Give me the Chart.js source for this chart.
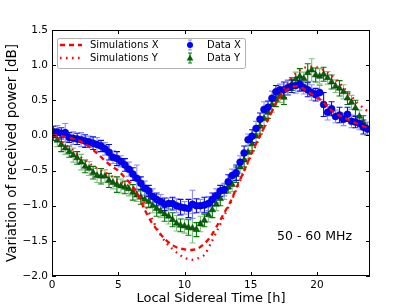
<!DOCTYPE html>
<html>
<head>
<meta charset="utf-8">
<script src="https://cdn.jsdelivr.net/npm/chart.js@4"></script>
<style>
  html, body { margin: 0; padding: 0; background: #fff; }
  canvas { display: block; }
</style>
</head>
<body>
<canvas id="chart" width="411" height="308"></canvas>
<script>
const times = [0.1, 0.4, 0.7, 1.0, 1.3, 1.6, 1.9, 2.2, 2.5, 2.8,
    3.1, 3.4, 3.7, 4.0, 4.3, 4.6, 4.9, 5.2, 5.5, 5.8,
    6.1, 6.4, 6.7, 7.0, 7.3, 7.6, 7.9, 8.2, 8.5, 8.8,
    9.1, 9.4, 9.7, 10.0, 10.3, 10.6, 10.9, 11.2, 11.5, 11.8,
    12.1, 12.4, 12.7, 13.0, 13.3, 13.6, 13.9, 14.2, 14.5, 14.8,
    15.1, 15.4, 15.7, 16.0, 16.3, 16.6, 16.9, 17.2, 17.5, 17.8,
    18.1, 18.4, 18.7, 19.0, 19.3, 19.6, 19.9, 20.2, 20.5, 20.8,
    21.1, 21.4, 21.7, 22.0, 22.3, 22.6, 22.9, 23.2, 23.5, 23.8];

const dataX = [0.05, 0.05, 0.03, 0.04, -0.03, -0.04, -0.05, -0.06, -0.08, -0.09,
    -0.11, -0.13, -0.15, -0.19, -0.24, -0.31, -0.33, -0.37, -0.42, -0.48,
    -0.55, -0.61, -0.68, -0.75, -0.79, -0.87, -0.91, -0.94, -0.98, -0.97,
    -0.97, -1.0, -1.02, -1.03, -1.04, -0.98, -1.0, -1.0, -0.99, -0.97,
    -0.91, -0.86, -0.79, -0.77, -0.66, -0.57, -0.53, -0.38, -0.25, -0.06,
    -0.01, 0.1, 0.23, 0.37, 0.40, 0.53, 0.62, 0.65, 0.65, 0.68,
    0.70, 0.71, 0.73, 0.68, 0.65, 0.61, 0.58, 0.61, 0.44, 0.33,
    0.38, 0.27, 0.29, 0.23, 0.3, 0.2, 0.19, 0.17, 0.12, 0.09];

const errX = [0.08, 0.09, 0.08, 0.13, 0.07, 0.09, 0.08, 0.1, 0.09, 0.08,
    0.09, 0.1, 0.08, 0.09, 0.11, 0.09, 0.1, 0.08, 0.09, 0.1,
    0.09, 0.19, 0.09, 0.1, 0.08, 0.11, 0.09, 0.1, 0.09, 0.08,
    0.09, 0.1, 0.11, 0.09, 0.13, 0.2, 0.1, 0.09, 0.11, 0.1,
    0.09, 0.1, 0.08, 0.09, 0.1, 0.09, 0.11, 0.09, 0.1, 0.08,
    0.09, 0.1, 0.09, 0.11, 0.09, 0.1, 0.09, 0.08, 0.11, 0.1,
    0.09, 0.11, 0.1, 0.09, 0.1, 0.11, 0.09, 0.1, 0.17, 0.11,
    0.1, 0.09, 0.11, 0.09, 0.1, 0.09, 0.08, 0.09, 0.1, 0.09];

const dataY = [0.01, -0.07, -0.13, -0.18, -0.23, -0.28, -0.32, -0.38, -0.44, -0.47,
    -0.53, -0.57, -0.58, -0.58, -0.64, -0.67, -0.70, -0.72, -0.74, -0.76,
    -0.81, -0.85, -0.88, -0.91, -0.94, -1.0, -1.04, -1.08, -1.12, -1.15,
    -1.2, -1.25, -1.28, -1.29, -1.31, -1.32, -1.34, -1.26, -1.21, -1.13,
    -1.06, -0.98, -0.9, -0.8, -0.73, -0.7, -0.56, -0.45, -0.35, -0.24,
    -0.12, -0.01, 0.13, 0.24, 0.33, 0.44, 0.51, 0.56, 0.54, 0.68,
    0.73, 0.8, 0.84, 0.81, 0.89, 0.93, 0.86, 0.84, 0.87, 0.82,
    0.76, 0.70, 0.67, 0.62, 0.53, 0.47, 0.39, 0.27, 0.18, 0.10];

const errY = [0.08, 0.09, 0.1, 0.09, 0.08, 0.1, 0.09, 0.11, 0.09, 0.1,
    0.09, 0.1, 0.11, 0.09, 0.1, 0.09, 0.11, 0.1, 0.09, 0.1,
    0.11, 0.09, 0.1, 0.11, 0.09, 0.1, 0.11, 0.09, 0.1, 0.11,
    0.1, 0.11, 0.09, 0.1, 0.11, 0.21, 0.1, 0.11, 0.09, 0.1,
    0.11, 0.09, 0.1, 0.11, 0.09, 0.1, 0.11, 0.09, 0.1, 0.09,
    0.1, 0.09, 0.11, 0.1, 0.09, 0.11, 0.1, 0.09, 0.1, 0.11,
    0.09, 0.1, 0.11, 0.09, 0.13, 0.16, 0.1, 0.11, 0.1, 0.09,
    0.1, 0.09, 0.11, 0.1, 0.09, 0.1, 0.11, 0.09, 0.1, 0.09];

const simTimes = [0, 0.5, 1, 1.5, 2, 2.5, 3, 3.5, 4, 4.5,
    5, 5.5, 6, 6.5, 7, 7.5, 8, 8.5, 9, 9.5,
    10, 10.5, 11, 11.5, 12, 12.5, 13, 13.5, 14, 14.5,
    15, 15.5, 16, 16.5, 17, 17.5, 18, 18.5, 19, 19.5,
    20, 20.5, 21, 21.5, 22, 22.5, 23, 23.5, 24];

const simX = [0.0, 0.0, -0.02, -0.04, -0.07, -0.12, -0.19, -0.27, -0.36, -0.44,
    -0.5, -0.6, -0.7, -0.85, -1.06, -1.23, -1.36, -1.47, -1.55, -1.6,
    -1.62, -1.63, -1.61, -1.54, -1.43, -1.27, -1.1, -0.93, -0.71, -0.5,
    -0.28, -0.08, 0.11, 0.3, 0.49, 0.61, 0.68, 0.7, 0.66, 0.6,
    0.54, 0.47, 0.37, 0.3, 0.26, 0.21, 0.17, 0.13, 0.1];

const simY = [0.0, -0.06, -0.13, -0.2, -0.28, -0.36, -0.42, -0.48, -0.53, -0.58,
    -0.64, -0.69, -0.75, -0.84, -0.98, -1.17, -1.35, -1.5, -1.6, -1.68,
    -1.74, -1.77, -1.75, -1.7, -1.53, -1.34, -1.14, -0.95, -0.73, -0.51,
    -0.3, -0.09, 0.11, 0.31, 0.5, 0.66, 0.8, 0.9, 0.96, 0.98,
    0.97, 0.93, 0.86, 0.78, 0.68, 0.58, 0.47, 0.39, 0.32];

const xTicks = [0, 5, 10, 15, 20];
const yTicks = [-2.0, -1.5, -1.0, -0.5, 0.0, 0.5, 1.0, 1.5];

const FONT = '"DejaVu Sans", sans-serif';
const blueBars = ['rgb(10,10,240)', 'rgba(90,90,255,0.7)'];
const greenBars = ['rgb(0,120,0)', 'rgba(60,160,60,0.65)'];
const DOTS = [1.6, 4.4];
const DASHES = [5, 4];

function points(xs, ys) {
    return xs.map((v, i) => ({ x: v, y: ys[i] }));
}

function drawBars(ctx, x, y, values, errs, colors) {
    ctx.lineWidth = 1.1;
    for (let i = 0; i < values.length; i++) {
        const px = x.getPixelForValue(times[i]);
        const top = y.getPixelForValue(values[i] + errs[i]);
        const bot = y.getPixelForValue(values[i] - errs[i]);
        ctx.strokeStyle = colors[i % 2];
        ctx.beginPath();
        ctx.moveTo(px, top); ctx.lineTo(px, bot);
        ctx.moveTo(px - 3, top); ctx.lineTo(px + 3, top);
        ctx.moveTo(px - 3, bot); ctx.lineTo(px + 3, bot);
        ctx.stroke();
    }
}

const errorBars = {
    id: 'errorBars',
    beforeDatasetsDraw(chart) {
        const { ctx, chartArea: a, scales: { x, y } } = chart;
        ctx.save();
        ctx.beginPath();
        ctx.rect(a.left, a.top, a.right - a.left, a.bottom - a.top);
        ctx.clip();
        drawBars(ctx, x, y, dataY, errY, greenBars);
        drawBars(ctx, x, y, dataX, errX, blueBars);
        ctx.restore();
    }
};

// frame, inward ticks, legend and the band label
const decorations = {
    id: 'decorations',
    afterDraw(chart) {
        const { ctx, chartArea: a, scales: { x, y } } = chart;
        ctx.save();
        ctx.strokeStyle = '#000';
        ctx.lineWidth = 1;
        ctx.strokeRect(a.left + 0.5, a.top + 0.5, a.right - a.left - 1, a.bottom - a.top - 1);
        ctx.beginPath();
        xTicks.forEach(v => {
            const px = Math.round(x.getPixelForValue(v)) + 0.5;
            ctx.moveTo(px, a.bottom); ctx.lineTo(px, a.bottom - 4);
            ctx.moveTo(px, a.top); ctx.lineTo(px, a.top + 4);
        });
        yTicks.forEach(v => {
            const py = Math.round(y.getPixelForValue(v)) + 0.5;
            ctx.moveTo(a.left, py); ctx.lineTo(a.left + 4, py);
            ctx.moveTo(a.right, py); ctx.lineTo(a.right - 4, py);
        });
        ctx.stroke();

        // legend
        const lx = 57, ly = 38, lw = 188, lh = 30;
        ctx.fillStyle = '#fff';
        ctx.strokeStyle = '#b0b0b0';
        ctx.beginPath();
        ctx.roundRect(lx + 0.5, ly + 0.5, lw, lh, 2);
        ctx.fill();
        ctx.stroke();

        const row1 = 45, row2 = 58;
        ctx.strokeStyle = 'red';
        ctx.lineWidth = 2.3;
        ctx.setLineDash(DASHES);
        ctx.beginPath(); ctx.moveTo(60, row1); ctx.lineTo(82, row1); ctx.stroke();
        ctx.setLineDash(DOTS);
        ctx.beginPath(); ctx.moveTo(60, row2); ctx.lineTo(82, row2); ctx.stroke();
        ctx.setLineDash([]);

        ctx.lineWidth = 1;
        [[row1, blueBars[1]], [row2, greenBars[0]]].forEach(([ry, c]) => {
            ctx.strokeStyle = c;
            ctx.beginPath();
            ctx.moveTo(190, ry - 5); ctx.lineTo(190, ry + 5);
            ctx.moveTo(188, ry - 5); ctx.lineTo(192, ry - 5);
            ctx.moveTo(188, ry + 5); ctx.lineTo(192, ry + 5);
            ctx.stroke();
        });
        ctx.fillStyle = '#0000ff';
        ctx.beginPath(); ctx.arc(190, row1, 3, 0, Math.PI * 2); ctx.fill();
        ctx.fillStyle = '#006400';
        ctx.beginPath();
        ctx.moveTo(190, row2 - 3.5); ctx.lineTo(193.3, row2 + 2.5); ctx.lineTo(186.7, row2 + 2.5);
        ctx.closePath(); ctx.fill();

        ctx.fillStyle = '#000';
        ctx.font = '10px ' + FONT;
        ctx.textBaseline = 'middle';
        ctx.textAlign = 'left';
        ctx.fillText('Simulations X', 90, row1);
        ctx.fillText('Simulations Y', 90, row2);
        ctx.fillText('Data X', 207, row1);
        ctx.fillText('Data Y', 207, row2);

        ctx.font = '12.5px ' + FONT;
        ctx.fillText('50 - 60 MHz', 277, 237);
        ctx.restore();
    }
};

const chart = new Chart(document.getElementById('chart'), {
    type: 'scatter',
    data: {
        datasets: [{
            label: 'Simulations X',
            data: points(simTimes, simX),
            showLine: true,
            borderColor: 'red',
            borderWidth: 2.3,
            borderDash: DASHES,
            borderCapStyle: 'butt',
            pointRadius: 0,
            tension: 0.3
        }, {
            label: 'Simulations Y',
            data: points(simTimes, simY),
            showLine: true,
            borderColor: 'red',
            borderWidth: 2.3,
            borderDash: DOTS,
            borderCapStyle: 'butt',
            pointRadius: 0,
            tension: 0.3
        }, {
            label: 'Data X',
            data: points(times, dataX),
            pointStyle: 'circle',
            pointRadius: 3.5,
            backgroundColor: '#0000ff',
            borderColor: '#00008b',
            borderWidth: 0.5
        }, {
            label: 'Data Y',
            data: points(times, dataY),
            pointStyle: 'triangle',
            pointRadius: 3.8,
            backgroundColor: '#006400',
            borderColor: '#003300',
            borderWidth: 0.5
        }]
    },
    options: {
        responsive: false,
        animation: false,
        devicePixelRatio: 1,
        layout: { padding: { top: 30, right: 41, left: 0, bottom: 0 } },
        plugins: {
            legend: { display: false },
            tooltip: { enabled: false }
        },
        scales: {
            x: {
                type: 'linear',
                min: 0,
                max: 24,
                afterBuildTicks: s => { s.ticks = xTicks.map(v => ({ value: v })); },
                afterFit: s => { s.height = 32; },
                grid: { display: false, drawTicks: false },
                border: { display: false },
                ticks: { color: '#000', padding: 3, font: { family: FONT, size: 10.5 } },
                title: {
                    display: true,
                    text: 'Local Sidereal Time [h]',
                    color: '#000',
                    padding: { top: 0, bottom: 2 },
                    font: { family: FONT, size: 13 }
                }
            },
            y: {
                min: -2.0,
                max: 1.5,
                afterBuildTicks: s => { s.ticks = yTicks.map(v => ({ value: v })); },
                afterFit: s => { s.width = 52; },
                grid: { display: false, drawTicks: false },
                border: { display: false },
                ticks: {
                    color: '#000',
                    padding: 4,
                    font: { family: FONT, size: 10.5 },
                    callback: v => v.toFixed(1).replace('-', '\u2212')
                },
                title: {
                    display: true,
                    text: 'Variation of received power [dB]',
                    color: '#000',
                    padding: { top: 4, bottom: 0 },
                    font: { family: FONT, size: 13.5 }
                }
            }
        }
    },
    plugins: [errorBars, decorations]
});
</script>
</body>
</html>
